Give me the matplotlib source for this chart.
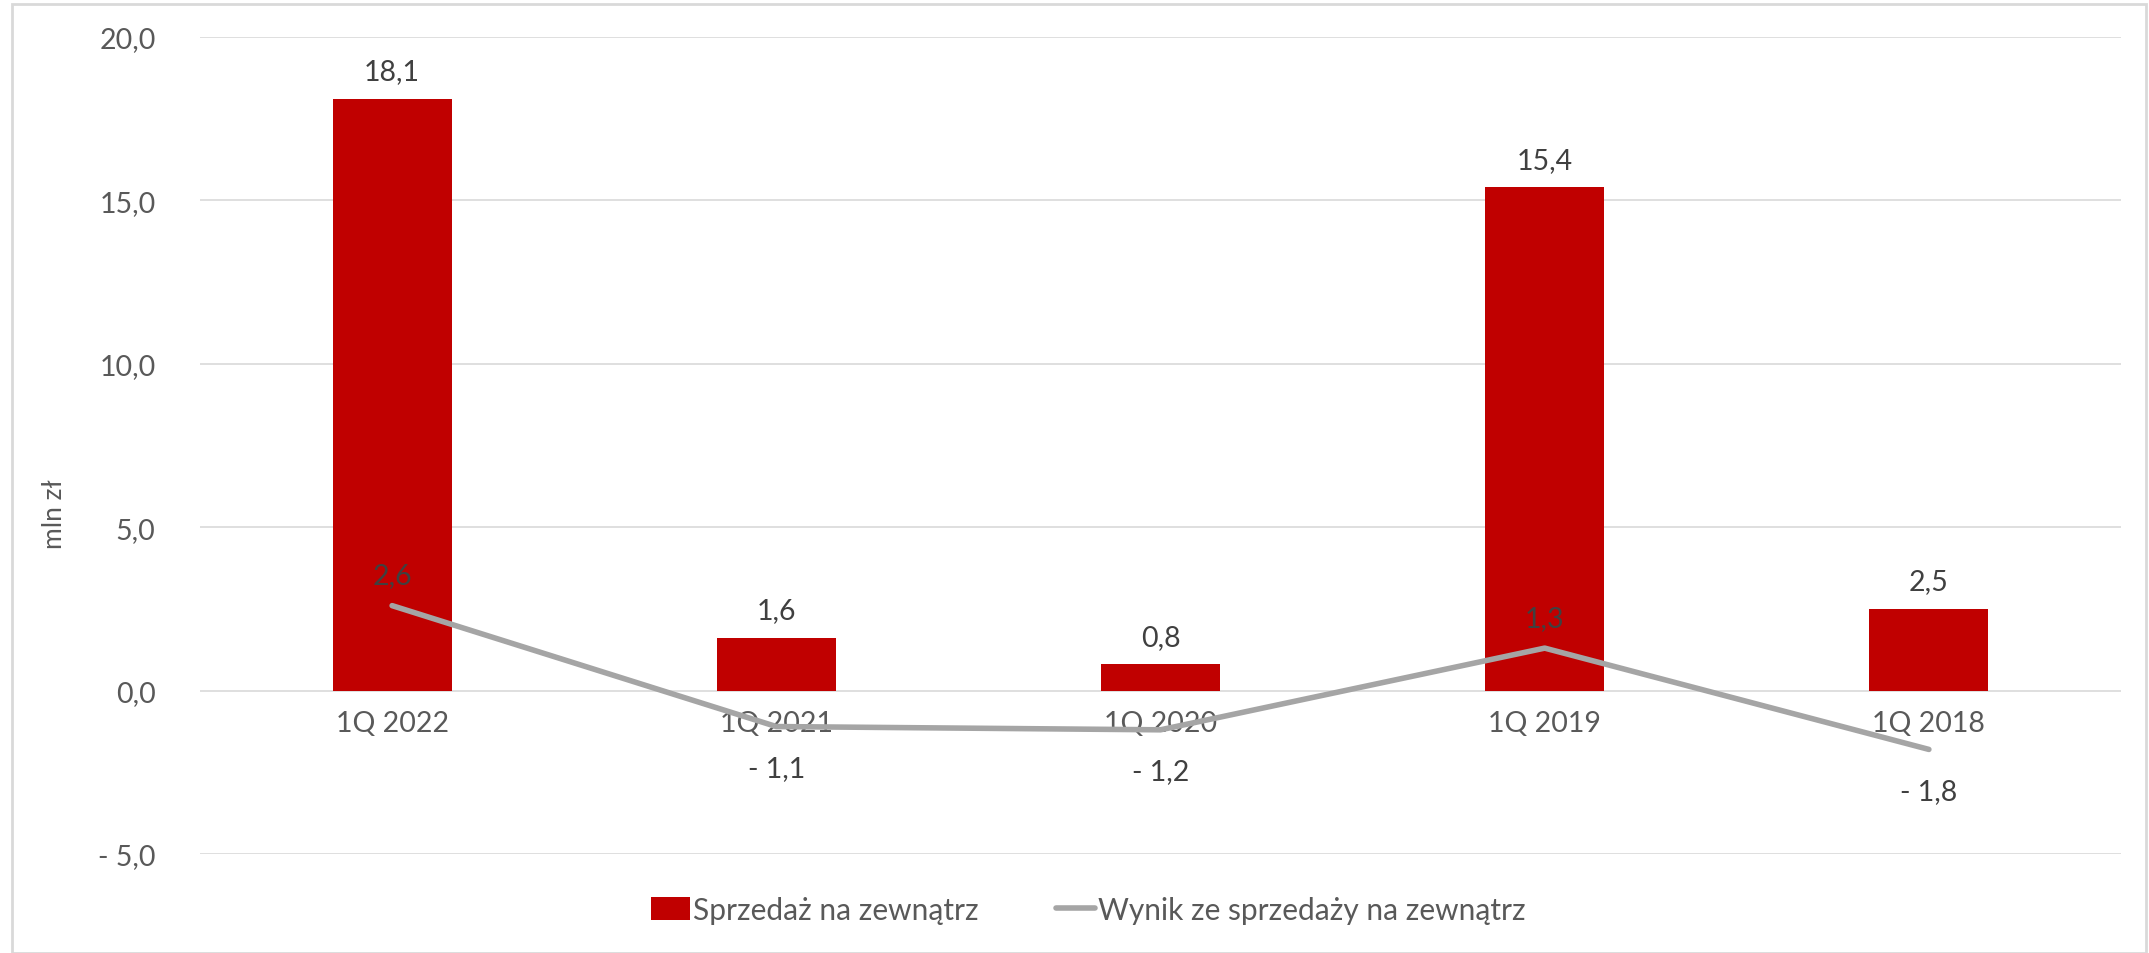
import matplotlib.pyplot as plt
from matplotlib.patches import Rectangle

plt.rcParams['font.family'] = ['Lato', 'DejaVu Sans']

# dane
kategorie = ["1Q 2022", "1Q 2021", "1Q 2020", "1Q 2019", "1Q 2018"]
sprzedaz = [18.1, 1.6, 0.8, 15.4, 2.5]
wynik = [2.6, -1.1, -1.2, 1.3, -1.8]
y_ticks = [-5, 0, 5, 10, 15, 20]


def fmt(v):
    # format jak w Excelu: przecinek, minus ze spacja
    s = "%.1f" % abs(v)
    s = s.replace(".", ",")
    return ("- " + s) if v < 0 else s


fig = plt.figure(figsize=(21.49, 9.54), dpi=100)
ax = fig.add_axes([200 / 2149, 1 - 855 / 954, 1921 / 2149, 817 / 954])

x = list(range(len(kategorie)))
bars = ax.bar(x, sprzedaz, width=0.31, color="#C00000", zorder=2,
              label="Sprzedaż na zewnątrz")
line, = ax.plot(x, wynik, color="#A5A5A5", linewidth=4, solid_capstyle="round",
                solid_joinstyle="round", zorder=3,
                label="Wynik ze sprzedaży na zewnątrz")

# etykiety slupkow
for xi, v in zip(x, sprzedaz):
    ax.annotate(fmt(v), (xi, v), xytext=(0, 20), textcoords="offset points",
                ha="center", va="center", fontsize=20.5, color="#404040", zorder=4)

# etykiety linii
for xi, v in zip(x, wynik):
    off = 22 if v >= 0 else -30
    ax.annotate(fmt(v), (xi, v), xytext=(0, off), textcoords="offset points",
                ha="center", va="center", fontsize=20.5, color="#404040", zorder=4)

ax.set_xlim(-0.5, len(kategorie) - 0.5)
ax.set_ylim(-5, 20)
ax.set_yticks(y_ticks)
ax.set_yticklabels([fmt(v) for v in y_ticks])
ax.set_xticks(x)
ax.set_xticklabels(kategorie)

ax.grid(axis="y", color="#D9D9D9", linewidth=1.2, zorder=0)
ax.set_axisbelow(True)
for s in ["top", "right", "left"]:
    ax.spines[s].set_visible(False)
ax.spines["bottom"].set_position(("data", 0))
ax.spines["bottom"].set_visible(False)
ax.tick_params(axis="x", length=0, pad=14, labelsize=20.5, labelcolor="#595959")
ax.tick_params(axis="y", length=0, pad=32, labelsize=20.5, labelcolor="#595959")

fig.text(55 / 2149, 1 - 514 / 954, "mln zł", rotation=90, ha="center", va="center",
         fontsize=19, color="#595959")

leg = fig.legend([bars, line], ["Sprzedaż na zewnątrz", "Wynik ze sprzedaży na zewnątrz"],
                 loc="center", bbox_to_anchor=(1088 / 2149, 1 - 911 / 954), ncol=2,
                 frameon=False, fontsize=21.5, handlelength=1.3, handleheight=0.8,
                 handletextpad=0.1, columnspacing=2.6)
for t in leg.get_texts():
    t.set_color("#595959")

# ramka wykresu
fig.patches.append(Rectangle((12 / 2149, 0), 2134 / 2149, 1 - 5 / 954,
                             transform=fig.transFigure, fill=False,
                             edgecolor="#D9D9D9", linewidth=2))

fig.savefig("out.png", dpi=100)
